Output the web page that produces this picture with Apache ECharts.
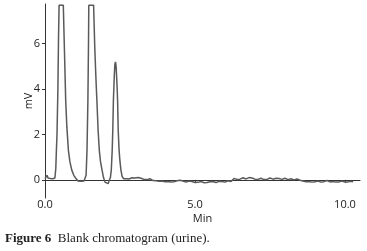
<!DOCTYPE html>
<html>
<head>
<meta charset="utf-8">
<script src="https://cdn.jsdelivr.net/npm/echarts@6/dist/echarts.min.js"></script>
<style>
  html, body { margin: 0; padding: 0; background: #fff; }
  #chart { width: 367px; height: 251px; }
</style>
</head>
<body>
<div id="chart"></div>
<script>
// retention time (min) / signal (mV) (detector saturates at ~7.7 mV)
var peakRegion = [
  [0.0, 0.05], [0.04, 0.1], [0.07, 0.2], [0.1, 0.08], [0.14, 0.02], [0.18, 0.06],
  [0.22, 0.0], [0.26, 0.05], [0.3, 0.02], [0.33, 0.08], [0.36, 0.5], [0.38, 1.3],
  [0.4, 2.0], [0.43, 4.0], [0.45, 6.2], [0.47, 7.7], [0.61, 7.7], [0.65, 5.6],
  [0.69, 3.5], [0.73, 2.3], [0.78, 1.3], [0.83, 0.8], [0.89, 0.44], [0.96, 0.2],
  [1.02, 0.08], [1.06, 0.0], [1.1, -0.05], [1.15, 0.0], [1.2, -0.06], [1.25, -0.02],
  [1.3, -0.05], [1.34, 0.02], [1.37, 0.2], [1.4, 1.3], [1.43, 3.5], [1.45, 6.0],
  [1.46, 7.7], [1.62, 7.7], [1.66, 5.8], [1.7, 4.4], [1.73, 3.5], [1.77, 2.2],
  [1.81, 1.3], [1.85, 0.8], [1.9, 0.44], [1.95, 0.1], [2.0, -0.1], [2.05, -0.16],
  [2.1, -0.17], [2.14, -0.1], [2.18, 0.1], [2.21, 0.44], [2.24, 1.3], [2.26, 2.2],
  [2.28, 3.5], [2.31, 4.6], [2.33, 5.1], [2.35, 5.2], [2.37, 5.0], [2.4, 4.2],
  [2.42, 3.5], [2.44, 2.2], [2.47, 1.3], [2.5, 0.8], [2.53, 0.44], [2.57, 0.15]
];
var baseline = [
  [2.62, 0.05], [2.65, 0.1], [2.7, 0.05], [2.75, 0.11], [2.8, 0.04], [2.9, 0.09],
  [2.95, 0.03], [3.0, 0.08], [3.1, 0.1], [3.15, 0.03], [3.2, 0.07], [3.3, 0.02],
  [3.35, 0.08], [3.4, 0.01], [3.5, 0.05], [3.6, -0.03], [3.65, 0.02], [3.7, -0.04],
  [3.8, -0.06], [3.85, 0.0], [3.9, -0.05], [4.0, -0.08], [4.05, -0.02], [4.1, -0.07],
  [4.2, -0.09], [4.25, -0.03], [4.3, -0.08], [4.4, -0.04], [4.5, -0.02], [4.55, -0.08],
  [4.6, -0.05], [4.7, -0.1], [4.8, -0.05], [4.85, -0.11], [4.9, -0.07], [5.0, -0.12],
  [5.05, -0.06], [5.1, -0.11], [5.2, -0.07], [5.3, -0.13], [5.35, -0.07], [5.4, -0.12],
  [5.5, -0.08], [5.55, -0.13], [5.6, -0.07], [5.7, -0.12], [5.8, -0.06], [5.85, -0.11],
  [5.9, -0.07], [6.0, -0.1], [6.1, -0.04], [6.2, -0.07], [6.25, 0.0], [6.3, 0.06],
  [6.4, 0.02], [6.45, 0.08], [6.5, 0.03], [6.6, 0.09], [6.7, 0.04], [6.8, 0.1],
  [6.85, 0.04], [6.9, 0.08], [7.0, 0.03], [7.05, 0.09], [7.1, 0.02], [7.2, 0.07],
  [7.3, 0.01], [7.35, 0.06], [7.4, 0.02], [7.5, 0.08], [7.6, 0.03], [7.7, 0.07],
  [7.75, 0.01], [7.8, 0.06], [7.9, 0.02], [8.0, 0.07], [8.1, 0.01], [8.2, 0.05],
  [8.3, 0.0], [8.4, 0.04], [8.5, -0.02], [8.55, 0.03], [8.6, -0.05], [8.7, -0.08],
  [8.75, -0.03], [8.8, -0.07], [8.9, -0.1], [8.95, -0.04], [9.0, -0.08], [9.1, -0.05],
  [9.2, -0.1], [9.25, -0.04], [9.3, -0.08], [9.4, -0.03], [9.5, -0.09], [9.55, -0.04],
  [9.6, -0.07], [9.7, -0.1], [9.75, -0.05], [9.8, -0.09], [9.9, -0.05], [10.0, -0.1],
  [10.05, -0.05], [10.1, -0.09], [10.2, -0.06], [10.27, -0.09]
];
var xTicks = [0, 5, 10];
var yTicks = [0, 2, 4, 6];

var chart = echarts.init(document.getElementById('chart'));
var font = 'Open Sans, DejaVu Sans, sans-serif';

var option = {
  animation: false,
  grid: { left: 45, right: 7, top: 4, bottom: 53 },
  xAxis: {
    type: 'value',
    min: 0,
    max: 10.5,
    name: 'Min',
    nameLocation: 'middle',
    nameGap: 15,
    nameMoveOverlap: false,
    nameTextStyle: { color: '#222', fontSize: 11, fontFamily: font },
    splitLine: { show: false },
    axisLine: { lineStyle: { color: '#333', width: 1 } },
    axisTick: { customValues: xTicks, length: 3, lineStyle: { color: '#333' } },
    axisLabel: {
      customValues: xTicks,
      color: '#222', fontSize: 11, fontFamily: font, margin: 1,
      formatter: function (v) { return v.toFixed(1); }
    }
  },
  yAxis: {
    type: 'value',
    min: -0.8,
    max: 7.75,
    name: 'mV',
    nameLocation: 'middle',
    nameGap: 11,
    nameMoveOverlap: false,
    nameTextStyle: { color: '#222', fontSize: 11, fontFamily: font },
    splitLine: { show: false },
    axisLine: { show: true, lineStyle: { color: '#333', width: 1 } },
    axisTick: { show: true, customValues: yTicks, length: 3, lineStyle: { color: '#333' } },
    axisLabel: { customValues: yTicks, color: '#222', fontSize: 11, fontFamily: font, margin: 5 }
  },
  series: [{
    type: 'line',
    data: peakRegion.concat(baseline),
    showSymbol: false,
    clip: false,
    lineStyle: { color: '#5a5a5a', width: 1.5 }
  }],
  graphic: [{
    type: 'text',
    left: 5,
    top: 232,
    style: {
      text: '{b|Figure 6}  Blank chromatogram (urine).',
      fill: '#222',
      font: '13px "Liberation Serif", "DejaVu Serif", serif',
      rich: {
        b: { fontWeight: 'bold', fontSize: 13, fontFamily: 'Liberation Serif, DejaVu Serif, serif', fill: '#222' }
      }
    }
  }]
};
chart.setOption(option);
</script>
</body>
</html>
